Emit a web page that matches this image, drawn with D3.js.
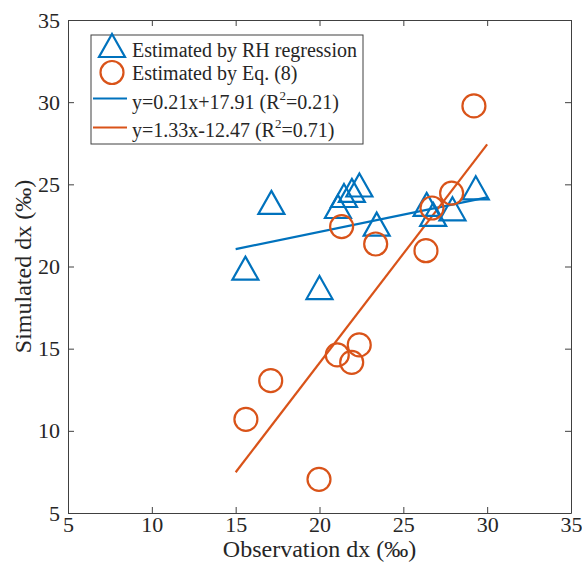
<!DOCTYPE html>
<html lang="en">
<head>
<meta charset="UTF-8">
<title>Simulated vs observed dx</title>
<script src="https://cdn.jsdelivr.net/npm/d3@7"></script>
<style>
  body { margin: 0; background: #fff; }
  text { font-family: "Liberation Serif", "Times New Roman", serif; fill: #262626; }
</style>
</head>
<body>
<div id="chart"></div>
<script>
// observed vs simulated dx
var obsRH = [15.58, 17.13, 20.0, 21.1, 21.46, 21.93, 22.38, 23.41, 26.39, 26.78, 27.93, 29.32];
var simRH = [19.87, 23.87, 18.69, 23.62, 24.29, 24.6, 24.93, 22.55, 23.75, 23.14, 23.48, 24.76];
var obsEq = [15.61, 17.09, 19.97, 21.06, 21.32, 21.92, 22.37, 23.35, 26.35, 26.71, 27.88, 29.21];
var simEq = [10.7, 13.05, 7.05, 14.62, 22.43, 14.17, 15.23, 21.37, 20.96, 23.56, 24.46, 29.77];

// fitted lines: slope, intercept and x span
var fitSlope = [0.21, 1.33];
var fitIntercept = [17.91, -12.47];
var fitRange = [15, 30];

var ticks = [5, 10, 15, 20, 25, 30, 35];
var legendLabels = ["Estimated by RH regression", "Estimated by Eq. (8)",
                    ["y=0.21x+17.91 (R", "=0.21)"], ["y=1.33x-12.47 (R", "=0.71)"]];

var blue = "#0072BD", orange = "#D95319", axisColor = "#404040";

var W = 582, H = 568;
var margin = {top: 20, right: 11, bottom: 55, left: 68};
var width = W - margin.left - margin.right,
    height = H - margin.top - margin.bottom;

var svg = d3.select("#chart").append("svg")
    .attr("width", W)
    .attr("height", H)
  .append("g")
    .attr("transform", "translate(" + margin.left + "," + margin.top + ")");

var x = d3.scaleLinear().domain([5, 35]).range([0, width]);
var y = d3.scaleLinear().domain([5, 35]).range([height, 0]);

// axes, ticks pointing inwards, box all round
function styleAxis(g) {
  g.selectAll("path, line").attr("stroke", axisColor);
  g.selectAll("text").attr("fill", "#262626").style("font-size", "22px")
    .style("font-family", '"Liberation Serif", serif');
}
svg.append("g").attr("transform", "translate(0," + height + ")")
  .call(d3.axisBottom(x).tickValues(ticks).tickSizeInner(-6).tickSizeOuter(0).tickPadding(3))
  .call(styleAxis);
svg.append("g")
  .call(d3.axisLeft(y).tickValues(ticks).tickSizeInner(-6).tickSizeOuter(0).tickPadding(8))
  .call(styleAxis);
svg.append("g")
  .call(d3.axisTop(x).tickValues(ticks).tickSizeInner(-6).tickSizeOuter(0).tickFormat(""))
  .call(styleAxis);
svg.append("g").attr("transform", "translate(" + width + ",0)")
  .call(d3.axisRight(y).tickValues(ticks).tickSizeInner(-6).tickSizeOuter(0).tickFormat(""))
  .call(styleAxis);

// axis titles
svg.append("text")
  .attr("x", width / 2).attr("y", height + 44)
  .attr("text-anchor", "middle")
  .style("font-size", "24px")
  .text("Observation dx (‰)");
svg.append("text")
  .attr("transform", "translate(" + (31 - margin.left) + "," + (height / 2) + ") rotate(-90)")
  .attr("text-anchor", "middle")
  .style("font-size", "24px")
  .text("Simulated dx (‰)");

var triPath = "M0,-12L13,11L-13,11Z";

// fit lines
var colors = [blue, orange];
fitSlope.forEach(function(m, i) {
  svg.append("line")
    .attr("x1", x(fitRange[0])).attr("y1", y(m * fitRange[0] + fitIntercept[i]))
    .attr("x2", x(fitRange[1])).attr("y2", y(m * fitRange[1] + fitIntercept[i]))
    .attr("stroke", colors[i])
    .attr("stroke-width", 2.2);
});

// RH regression triangles
svg.selectAll(".tri")
  .data(obsRH.map(function(d, i) { return [d, simRH[i]]; }))
  .enter().append("path")
    .attr("class", "tri")
    .attr("d", triPath)
    .attr("transform", function(d) { return "translate(" + x(d[0]) + "," + y(d[1]) + ")"; })
    .attr("fill", "none")
    .attr("stroke", blue)
    .attr("stroke-width", 2.2);

// Eq. (8) circles
svg.selectAll(".circ")
  .data(obsEq.map(function(d, i) { return [d, simEq[i]]; }))
  .enter().append("circle")
    .attr("class", "circ")
    .attr("cx", function(d) { return x(d[0]); })
    .attr("cy", function(d) { return y(d[1]); })
    .attr("r", 11.5)
    .attr("fill", "none")
    .attr("stroke", orange)
    .attr("stroke-width", 2.2);

// legend
var lg = svg.append("g").attr("transform", "translate(" + (91 - margin.left) + "," + (35 - margin.top) + ")");
lg.append("rect")
  .attr("width", 272).attr("height", 109)
  .attr("fill", "#fff")
  .attr("stroke", axisColor)
  .attr("stroke-width", 1);

var rowBase = [22, 45, 74, 102];
var rowMark = [11, 37.5, 63.5, 92.5];
lg.append("path").attr("d", triPath)
  .attr("transform", "translate(21," + rowMark[0] + ")")
  .attr("fill", "none").attr("stroke", blue).attr("stroke-width", 2.2);
lg.append("circle").attr("cx", 21).attr("cy", rowMark[1]).attr("r", 11.5)
  .attr("fill", "none").attr("stroke", orange).attr("stroke-width", 2.2);
[2, 3].forEach(function(r, i) {
  lg.append("line")
    .attr("x1", 2).attr("x2", 36)
    .attr("y1", rowMark[r]).attr("y2", rowMark[r])
    .attr("stroke", colors[i]).attr("stroke-width", 2.2);
});

legendLabels.forEach(function(lab, i) {
  var t = lg.append("text")
    .attr("x", 41).attr("y", rowBase[i])
    .style("font-size", "20px");
  if (typeof lab === "string") {
    t.text(lab);
  } else {
    t.append("tspan").text(lab[0]);
    t.append("tspan").attr("dy", -9).style("font-size", "13px").text("2");
    t.append("tspan").attr("dy", 9).text(lab[1]);
  }
});
</script>
</body>
</html>
